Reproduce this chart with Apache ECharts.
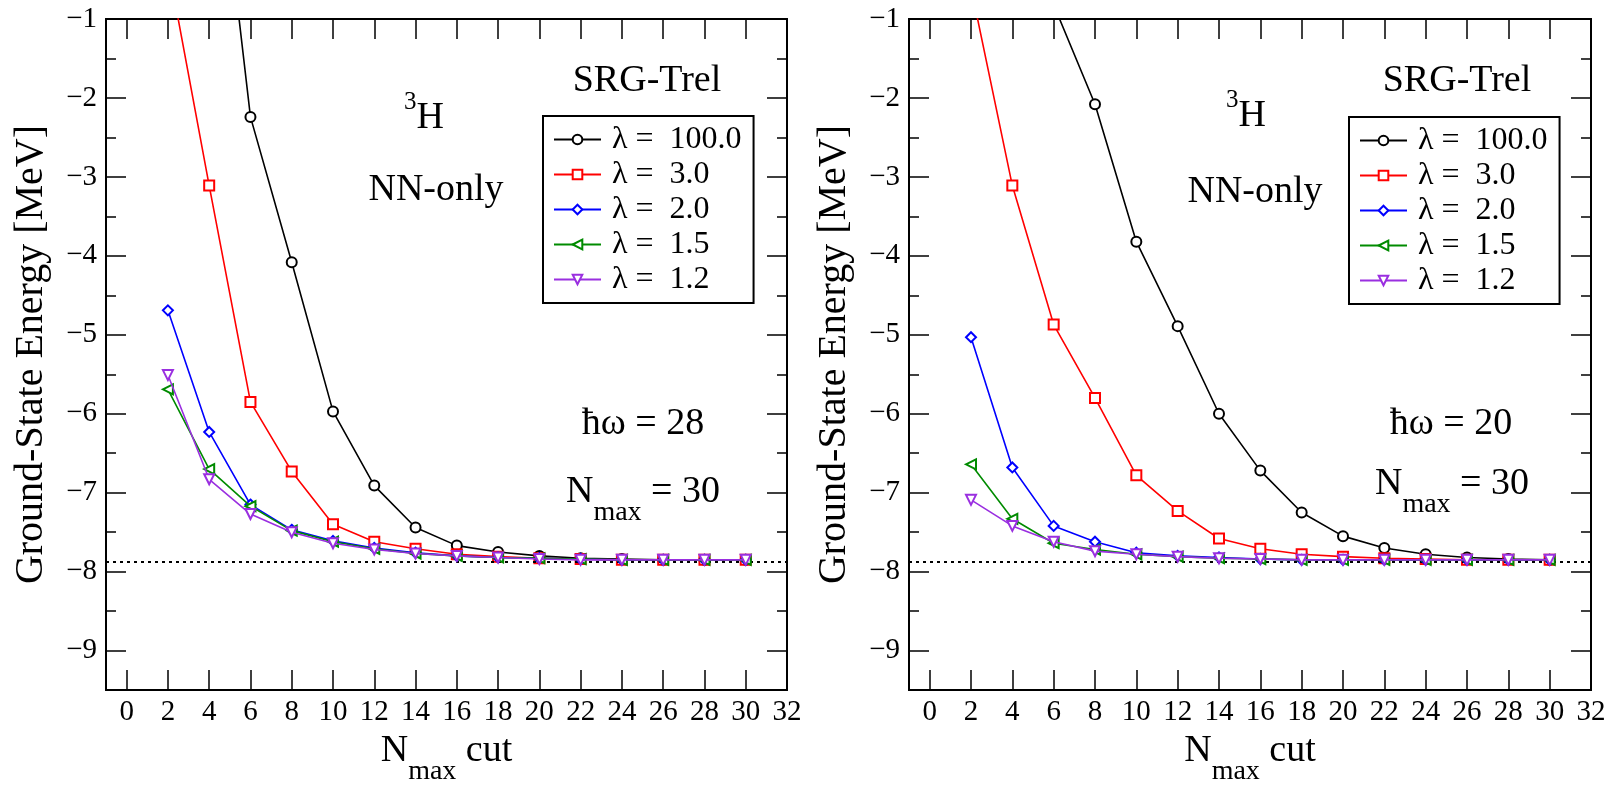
<!DOCTYPE html>
<html>
<head>
<meta charset="utf-8">
<script src="https://cdn.jsdelivr.net/npm/echarts@6/dist/echarts.min.js"></script>
<style>
html,body{margin:0;padding:0;background:#fff;}
#chart{width:1612px;height:791px;}
</style>
</head>
<body>
<div id="chart"></div>
<script>
// ---------- data ----------
const nmaxCut = [2, 4, 6, 8, 10, 12, 14, 16, 18, 20, 22, 24, 26, 28, 30];
const seriesNames = ['λ =  100.0', 'λ =  3.0', 'λ =  2.0', 'λ =  1.5', 'λ =  1.2'];

// hbar omega = 28
const hw28_l100 = [8.0, 2.26, -2.24, -4.08, -5.97, -6.91, -7.44, -7.67, -7.75, -7.80, -7.83, -7.84, -7.85, -7.85, -7.85];
const hw28_l30  = [-0.30, -3.11, -5.85, -6.73, -7.40, -7.62, -7.71, -7.78, -7.81, -7.83, -7.84, -7.85, -7.85, -7.85, -7.85];
const hw28_l20  = [-4.69, -6.23, -7.15, -7.47, -7.61, -7.70, -7.76, -7.80, -7.82, -7.83, -7.84, -7.85, -7.85, -7.85, -7.85];
const hw28_l15  = [-5.69, -6.70, -7.17, -7.48, -7.62, -7.71, -7.77, -7.80, -7.82, -7.83, -7.84, -7.85, -7.85, -7.85, -7.85];
const hw28_l12  = [-5.51, -6.83, -7.27, -7.50, -7.64, -7.72, -7.77, -7.80, -7.82, -7.84, -7.85, -7.85, -7.85, -7.85, -7.85];

// hbar omega = 20
const hw20_l100 = [4.0, 1.0, -0.82, -2.08, -3.82, -4.89, -6.00, -6.72, -7.25, -7.55, -7.70, -7.78, -7.82, -7.84, -7.85];
const hw20_l30  = [-0.60, -3.11, -4.87, -5.80, -6.78, -7.23, -7.58, -7.71, -7.78, -7.81, -7.83, -7.84, -7.85, -7.85, -7.85];
const hw20_l20  = [-5.03, -6.68, -7.42, -7.62, -7.76, -7.80, -7.82, -7.84, -7.85, -7.85, -7.85, -7.85, -7.85, -7.85, -7.85];
const hw20_l15  = [-6.64, -7.33, -7.64, -7.72, -7.78, -7.81, -7.83, -7.84, -7.85, -7.85, -7.85, -7.85, -7.85, -7.85, -7.85];
const hw20_l12  = [-7.09, -7.42, -7.62, -7.74, -7.78, -7.81, -7.83, -7.84, -7.85, -7.85, -7.85, -7.85, -7.85, -7.85, -7.85];

const exactEnergy = -7.87;

const xTickValues = [0, 2, 4, 6, 8, 10, 12, 14, 16, 18, 20, 22, 24, 26, 28, 30, 32];
const yTickValues = [-9, -8, -7, -6, -5, -4, -3, -2, -1];
const yMinorValues = [-9.5, -8.5, -7.5, -6.5, -5.5, -4.5, -3.5, -2.5, -1.5];

// ---------- styles ----------
const FONT = 'Liberation Serif';
const colors = ['#000000', '#ff0000', '#0000ff', '#008b00', '#9a2fe0'];
const symbols = ['emptyCircle', 'emptyRect', 'emptyDiamond', 'emptyTriangle', 'emptyTriangle'];
const rotates = [0, 0, 0, 90, 180];

const grids = [
  {left: 106, top: 19, width: 681, height: 680},
  {left: 909, top: 19, width: 682, height: 680}
];

function pairs(ys) { return nmaxCut.map((x, i) => [x, ys[i]]); }

const panels = [
  [hw28_l100, hw28_l30, hw28_l20, hw28_l15, hw28_l12],
  [hw20_l100, hw20_l30, hw20_l20, hw20_l15, hw20_l12]
];

const richSub = {
  n: {fontFamily: FONT, fontSize: 38, lineHeight: 38, color: '#000', fill: '#000', verticalAlign: 'top'},
  s: {fontFamily: FONT, fontSize: 28, lineHeight: 80, color: '#000', fill: '#000', verticalAlign: 'middle'}
};

const xAxes = [], yAxes = [], series = [];
const axisLine = {show: true, onZero: false, lineStyle: {color: '#000', width: 2}};
panels.forEach((pdata, g) => {
  xAxes.push({
    gridIndex: g, type: 'value', min: -1, max: 32, position: 'bottom',
    axisLine: axisLine,
    axisTick: {show: true, inside: true, length: 20, lineStyle: {color: '#000', width: 1.5}, customValues: xTickValues},
    axisLabel: {show: true, customValues: xTickValues, fontFamily: FONT, fontSize: 29, color: '#000', margin: 8},
    splitLine: {show: false},
    name: '{n|N}{s|max}{n| cut}', nameLocation: 'middle', nameGap: 37,
    nameTextStyle: {rich: richSub}
  });
  xAxes.push({
    gridIndex: g, type: 'value', min: -1, max: 32, position: 'top',
    axisLine: axisLine,
    axisTick: {show: true, inside: true, length: 20, lineStyle: {color: '#000', width: 1.5}, customValues: xTickValues},
    axisLabel: {show: false}, splitLine: {show: false}
  });
  const yBase = {gridIndex: g, type: 'value', min: -9.5, max: -1, splitLine: {show: false}, axisLine: axisLine};
  yAxes.push(Object.assign({}, yBase, {
    position: 'left',
    axisTick: {show: true, inside: true, length: 20, lineStyle: {color: '#000', width: 1.5}, customValues: yTickValues},
    axisLabel: {show: true, customValues: yTickValues, fontFamily: FONT, fontSize: 29, color: '#000', margin: 9,
      formatter: v => '\u2212' + Math.abs(v)},
    name: 'Ground-State Energy [MeV]', nameLocation: 'middle', nameRotate: 90, nameGap: 55,
    nameTextStyle: {fontFamily: FONT, fontSize: 40, color: '#000'}
  }));
  yAxes.push(Object.assign({}, yBase, {
    position: 'right',
    axisTick: {show: true, inside: true, length: 20, lineStyle: {color: '#000', width: 1.5}, customValues: yTickValues},
    axisLabel: {show: false}
  }));
  yAxes.push(Object.assign({}, yBase, {
    position: 'left',
    axisTick: {show: true, inside: true, length: 10, lineStyle: {color: '#000', width: 1.5}, customValues: yMinorValues},
    axisLabel: {show: false}
  }));
  yAxes.push(Object.assign({}, yBase, {
    position: 'right',
    axisTick: {show: true, inside: true, length: 10, lineStyle: {color: '#000', width: 1.5}, customValues: yMinorValues},
    axisLabel: {show: false}
  }));

  pdata.forEach((ys, k) => {
    const s = {
      type: 'line', name: seriesNames[k],
      xAxisIndex: g * 2, yAxisIndex: g * 4,
      data: pairs(ys),
      symbol: symbols[k], symbolSize: 10, symbolRotate: rotates[k],
      lineStyle: {color: colors[k], width: 1.6},
      itemStyle: {color: colors[k], borderWidth: 1.5},
      clip: true, z: 3 + k
    };
    if (k === 0) {
      s.markLine = {
        silent: true, symbol: 'none', label: {show: false},
        lineStyle: {color: '#000', width: 2, type: [3, 4]},
        data: [{yAxis: exactEnergy}]
      };
    }
    series.push(s);
  });
});

const legendBase = {
  orient: 'vertical', itemWidth: 47, itemHeight: 12, itemGap: 2,
  padding: [7, 12, 7, 10], borderColor: '#000', borderWidth: 2, backgroundColor: '#fff',
  textStyle: {fontFamily: FONT, fontSize: 32, lineHeight: 33, color: '#000', padding: [0, 0, 0, 6]},
  data: seriesNames
};

const annoStyle = {fontFamily: FONT, fontSize: 38, fill: '#000', textAlign: 'center', textVerticalAlign: 'middle'};
function txt(x, y, t, rich) {
  return {type: 'text', x: x, y: y, z: 10, style: Object.assign({}, annoStyle, {text: t}, rich ? {rich: rich} : {})};
}
const richH = {
  sup: {fontFamily: FONT, fontSize: 25, lineHeight: 25, verticalAlign: 'bottom', padding: [0, 0, 22, 0], fill: '#000'},
  big: {fontFamily: FONT, fontSize: 38, lineHeight: 38, verticalAlign: 'bottom', fill: '#000'}
};

const option = {
  animation: false,
  backgroundColor: '#fff',
  grid: grids,
  xAxis: xAxes,
  yAxis: yAxes,
  legend: [
    Object.assign({left: 543, top: 116}, legendBase),
    Object.assign({left: 1349, top: 117}, legendBase)
  ],
  series: series,
  graphic: [
    txt(647, 81, 'SRG-Trel'),
    txt(424, 118, '{sup|3}{big|H}', richH),
    txt(436, 190, 'NN-only'),
    txt(643, 424, 'ħω = 28'),
    txt(643, 513, '{n|N}{s|max}{n| = 30}', richSub),
    txt(1457, 81, 'SRG-Trel'),
    txt(1246, 116, '{sup|3}{big|H}', richH),
    txt(1255, 192, 'NN-only'),
    txt(1451, 424, 'ħω = 20'),
    txt(1452, 505, '{n|N}{s|max}{n| = 30}', richSub)
  ]
};

const chart = echarts.init(document.getElementById('chart'), null, {renderer: 'canvas'});
chart.setOption(option);
</script>
</body>
</html>
